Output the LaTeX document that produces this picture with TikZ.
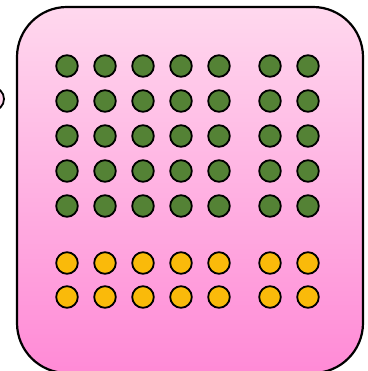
\documentclass[tikz,border=0pt]{standalone}
\usepackage{tikz}
\usepackage{xcolor}

\definecolor{pinktop}{RGB}{255,216,238}
\definecolor{pinkbot}{RGB}{255,138,214}
\definecolor{dotgreen}{RGB}{84,130,53}
\definecolor{dotyellow}{RGB}{250,186,10}

\tikzset{
  dot/.style={circle, draw=black, line width=1.8pt, inner sep=0pt, minimum size=21.6pt},
  greendot/.style={dot, fill=dotgreen},
  yellowdot/.style={dot, fill=dotyellow}
}

\begin{document}
\begin{tikzpicture}[x=1pt, y=-1pt]
        \useasboundingbox (0,0) rectangle (367,371);
        \clip (0,0) rectangle (367,371);

        % Port on the left edge, mostly cut off
        \node[circle, draw=black, line width=1.8pt, fill=pinktop, inner sep=0pt, minimum size=24pt] (port) at (-8,99) {};

        % Pink box
        \path[draw=black, line width=2.2pt, top color=pinktop, bottom color=pinkbot, rounded corners=50pt]
            (17,7) rectangle (363,373);

        % Green dots
        \foreach \r/\y in {1/66, 2/101, 3/136, 4/171, 5/206} {
            \foreach \c/\x in {1/67, 2/105, 3/143, 4/181, 5/219, 6/270, 7/308} {
                \node[greendot] (g-\r-\c) at (\x,\y) {};
            }
        }

        % Yellow dots
        \foreach \r/\y in {1/263, 2/297} {
            \foreach \c/\x in {1/67, 2/105, 3/143, 4/181, 5/219, 6/270, 7/308} {
                \node[yellowdot] (y-\r-\c) at (\x,\y) {};
            }
        }
    \end{tikzpicture}
\end{document}
